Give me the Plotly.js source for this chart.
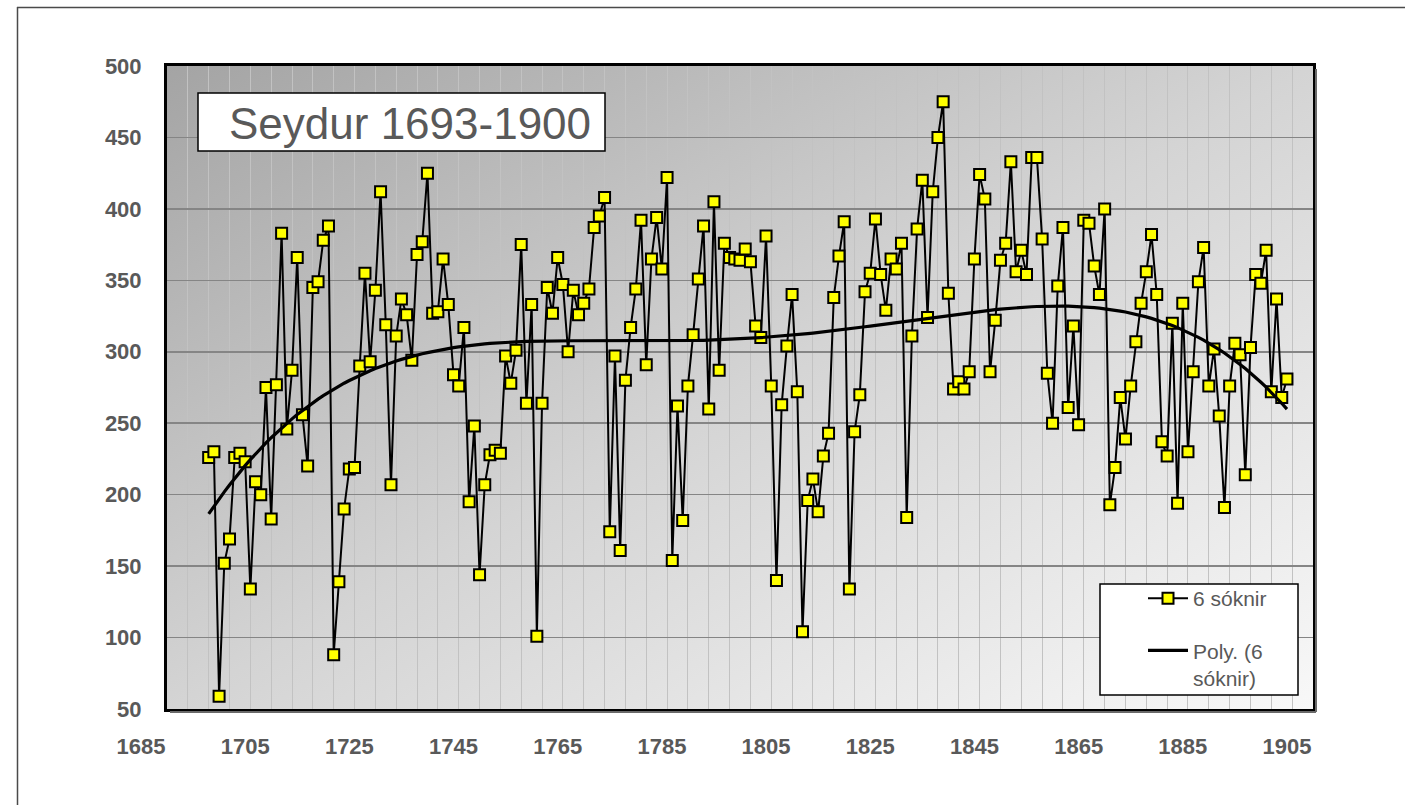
<!DOCTYPE html>
<html><head><meta charset="utf-8">
<script src="https://cdn.plot.ly/plotly-3.0.1.min.js"></script>
<style>html,body{margin:0;padding:0;background:#fff;}#chart{width:1405px;height:805px;}</style>
</head><body><div id="chart"></div>
<script>
const years = [
1693,1694,1695,1696,1697,1698,1699,1700,1701,1702,
1703,1704,1705,1706,1707,1708,1709,1710,1711,1712,
1713,1714,1715,1716,1717,1718,1719,1720,1721,1722,
1723,1724,1725,1726,1727,1728,1729,1730,1731,1732,
1733,1734,1735,1736,1737,1738,1739,1740,1741,1742,
1743,1744,1745,1746,1747,1748,1749,1750,1751,1752,
1753,1754,1755,1756,1757,1758,1759,1760,1761,1762,
1763,1764,1765,1766,1767,1768,1769,1770,1771,1772,
1773,1774,1775,1776,1777,1778,1779,1780,1781,1782,
1783,1784,1785,1786,1787,1788,1789,1790,1791,1792,
1793,1794,1795,1796,1797,1798,1799,1800,1801,1802,
1803,1804,1805,1806,1807,1808,1809,1810,1811,1812,
1813,1814,1815,1816,1817,1818,1819,1820,1821,1822,
1823,1824,1825,1826,1827,1828,1829,1830,1831,1832,
1833,1834,1835,1836,1837,1838,1839,1840,1841,1842,
1843,1844,1845,1846,1847,1848,1849,1850,1851,1852,
1853,1854,1855,1856,1857,1858,1859,1860,1861,1862,
1863,1864,1865,1866,1867,1868,1869,1870,1871,1872,
1873,1874,1875,1876,1877,1878,1879,1880,1881,1882,
1883,1884,1885,1886,1887,1888,1889,1890,1891,1892,
1893,1894,1895,1896,1897,1898,1899,1900];
const values = [
226,230,59,152,169,226,229,223,134,209,
200,275,183,277,383,246,287,366,256,220,
345,349,378,388,88,139,190,218,219,290,
355,293,343,412,319,207,311,337,326,294,
368,377,425,327,328,365,333,284,276,317,
195,248,144,207,228,231,229,297,278,301,
375,264,333,101,264,345,327,366,347,300,
343,326,334,344,387,395,408,174,297,161,
280,317,344,392,291,365,394,358,422,154,
262,182,276,312,351,388,260,405,287,376,
366,365,364,372,363,318,310,381,276,140,
263,304,340,272,104,196,211,188,227,243,
338,367,391,134,244,270,342,355,393,354,
329,365,358,376,184,311,386,420,324,412,
450,475,341,274,279,274,286,365,424,407,
286,322,364,376,433,356,371,354,436,436,
379,285,250,346,387,261,318,249,392,390,
360,340,400,193,219,268,239,276,307,334,
356,382,340,237,227,320,194,334,230,286,
349,373,276,302,255,191,276,306,298,214,
303,354,348,371,272,337,268,281];
const seriesName = '6 sóknir';
const trendName = 'Poly. (6<br>sóknir)';
const titleText = 'Seydur 1693-1900';
const xTicks = [1685,1705,1725,1745,1765,1785,1805,1825,1845,1865,1885,1905];
const yTicks = [50,100,150,200,250,300,350,400,450,500];
const POLY_ORDER = 4;

// least-squares polynomial trendline (as Excel's "Poly." trendline)
function polyFit(xs, ys, order) {
  const n = xs.length;
  const mid = (Math.min(...xs) + Math.max(...xs)) / 2;
  const half = (Math.max(...xs) - Math.min(...xs)) / 2;
  const ts = xs.map(x => (x - mid) / half);
  const m = order + 1;
  const A = [], b = [];
  for (let j = 0; j < m; j++) {
    A.push(new Array(m).fill(0)); b.push(0);
    for (let i = 0; i < n; i++) {
      b[j] += ys[i] * Math.pow(ts[i], j);
      for (let k = 0; k < m; k++) A[j][k] += Math.pow(ts[i], j + k);
    }
  }
  for (let c = 0; c < m; c++) {
    let p = c;
    for (let r = c + 1; r < m; r++) if (Math.abs(A[r][c]) > Math.abs(A[p][c])) p = r;
    [A[c], A[p]] = [A[p], A[c]]; [b[c], b[p]] = [b[p], b[c]];
    for (let r = c + 1; r < m; r++) {
      const f = A[r][c] / A[c][c];
      for (let k = c; k < m; k++) A[r][k] -= f * A[c][k];
      b[r] -= f * b[c];
    }
  }
  const coef = new Array(m).fill(0);
  for (let r = m - 1; r >= 0; r--) {
    let s = b[r];
    for (let k = r + 1; k < m; k++) s -= A[r][k] * coef[k];
    coef[r] = s / A[r][r];
  }
  return x => { const t = (x - mid) / half; let s = 0; for (let j = m - 1; j >= 0; j--) s = s * t + coef[j]; return s; };
}
const trendFn = polyFit(years, values, POLY_ORDER);
const trendValues = years.map(trendFn);

// layout geometry helpers (pixel -> paper)
const PL = 167, PR = 1313, PT = 66, PB = 709;
const px = x => (x - PL) / (PR - PL);
const py = y => (PB - y) / (PB - PT);

const gradSvg = "<svg xmlns='http://www.w3.org/2000/svg' width='100' height='100' preserveAspectRatio='none'>" +
  "<defs><linearGradient id='g' x1='0' y1='0' x2='1' y2='1'>" +
  "<stop offset='0' stop-color='#a4a4a4'/><stop offset='0.5' stop-color='#d4d4d4'/><stop offset='1' stop-color='#f8f8f8'/>" +
  "</linearGradient></defs><rect width='100' height='100' fill='url(#g)'/></svg>";
const gradUri = 'data:image/svg+xml;base64,' + btoa(gradSvg);

const FONT = 'Liberation Sans, Arial, sans-serif';
const GRAY = '#595959';

const traces = [
  {
    x: years, y: values, type: 'scatter', mode: 'lines+markers', name: seriesName,
    legendgroup: 'a',
    line: {color: '#000000', width: 2},
    marker: {symbol: 'square', size: 11, color: '#ffff00', line: {color: '#000000', width: 2}}
  },
  {
    x: years, y: trendValues, type: 'scatter', mode: 'lines', name: trendName,
    legendgroup: 'b',
    line: {color: '#000000', width: 3.2}
  }
];

const layout = {
  width: 1405, height: 805,
  margin: {l: PL, r: 1405 - PR, t: PT, b: 805 - PB, pad: 0},
  paper_bgcolor: '#ffffff', plot_bgcolor: 'rgba(0,0,0,0)',
  showlegend: true,
  legend: {
    x: px(1143), y: py(578), xanchor: 'left', yanchor: 'top',
    bgcolor: 'rgba(0,0,0,0)', borderwidth: 0,
    font: {family: FONT, size: 21, color: GRAY},
    traceorder: 'grouped', tracegroupgap: 22, valign: 'top', itemwidth: 40
  },
  xaxis: {
    range: [1685, 1905], tickmode: 'array', tickvals: xTicks, ticktext: xTicks.map(String),
    showline: true, mirror: true, linecolor: '#000000', linewidth: 3,
    showgrid: true, gridcolor: '#c2c2c2', gridwidth: 1, zeroline: false, ticks: '',
    minor: {tickmode: 'linear', tick0: 1685, dtick: 4, showgrid: true, gridcolor: '#c2c2c2', gridwidth: 1},
    tickfont: {family: FONT, size: 22, color: GRAY, weight: 'bold'},
    ticklabelshift: -26, ticklabelstandoff: 16, fixedrange: true
  },
  yaxis: {
    range: [50, 500], tickmode: 'array', tickvals: yTicks, ticktext: yTicks.map(String),
    showline: true, mirror: true, linecolor: '#000000', linewidth: 3,
    showgrid: true, gridcolor: '#858585', gridwidth: 1.5, zeroline: false, ticks: '',
    tickfont: {family: FONT, size: 22, color: GRAY, weight: 'bold'},
    ticklabelstandoff: 18, fixedrange: true
  },
  images: [{source: gradUri, xref: 'paper', yref: 'paper', x: 0, y: 1, sizex: 1, sizey: 1,
            xanchor: 'left', yanchor: 'top', sizing: 'stretch', layer: 'below'}],
  shapes: [
    {type: 'line', xref: 'paper', yref: 'paper', x0: px(17), x1: px(1410), y0: py(7.5), y1: py(7.5), line: {color: '#4a4a4a', width: 1.5}},
    {type: 'line', xref: 'paper', yref: 'paper', x0: px(17.5), x1: px(17.5), y0: py(7), y1: py(810), line: {color: '#4a4a4a', width: 1.5}},
    {type: 'line', xref: 'paper', yref: 'paper', x0: px(1316), x1: px(1316), y0: py(69), y1: py(712), line: {color: '#6a6a6a', width: 2}},
    {type: 'line', xref: 'paper', yref: 'paper', x0: px(170), x1: px(1316), y0: py(712), y1: py(712), line: {color: '#6a6a6a', width: 2}},
    {type: 'rect', xref: 'paper', yref: 'paper', x0: px(198), x1: px(605), y0: py(151), y1: py(93), fillcolor: '#ffffff', line: {color: '#000000', width: 1.5}},
    {type: 'rect', xref: 'paper', yref: 'paper', x0: px(1100), x1: px(1298), y0: py(695), y1: py(584), fillcolor: '#ffffff', line: {color: '#000000', width: 1.5}}
  ],
  annotations: [
    {text: titleText, xref: 'paper', yref: 'paper', x: px(593), y: py(123), xanchor: 'right', yanchor: 'middle',
     showarrow: false, font: {family: FONT, size: 44, color: GRAY}}
  ]
};

Plotly.newPlot('chart', traces, layout, {displayModeBar: false, staticPlot: true});
</script>
</body></html>
